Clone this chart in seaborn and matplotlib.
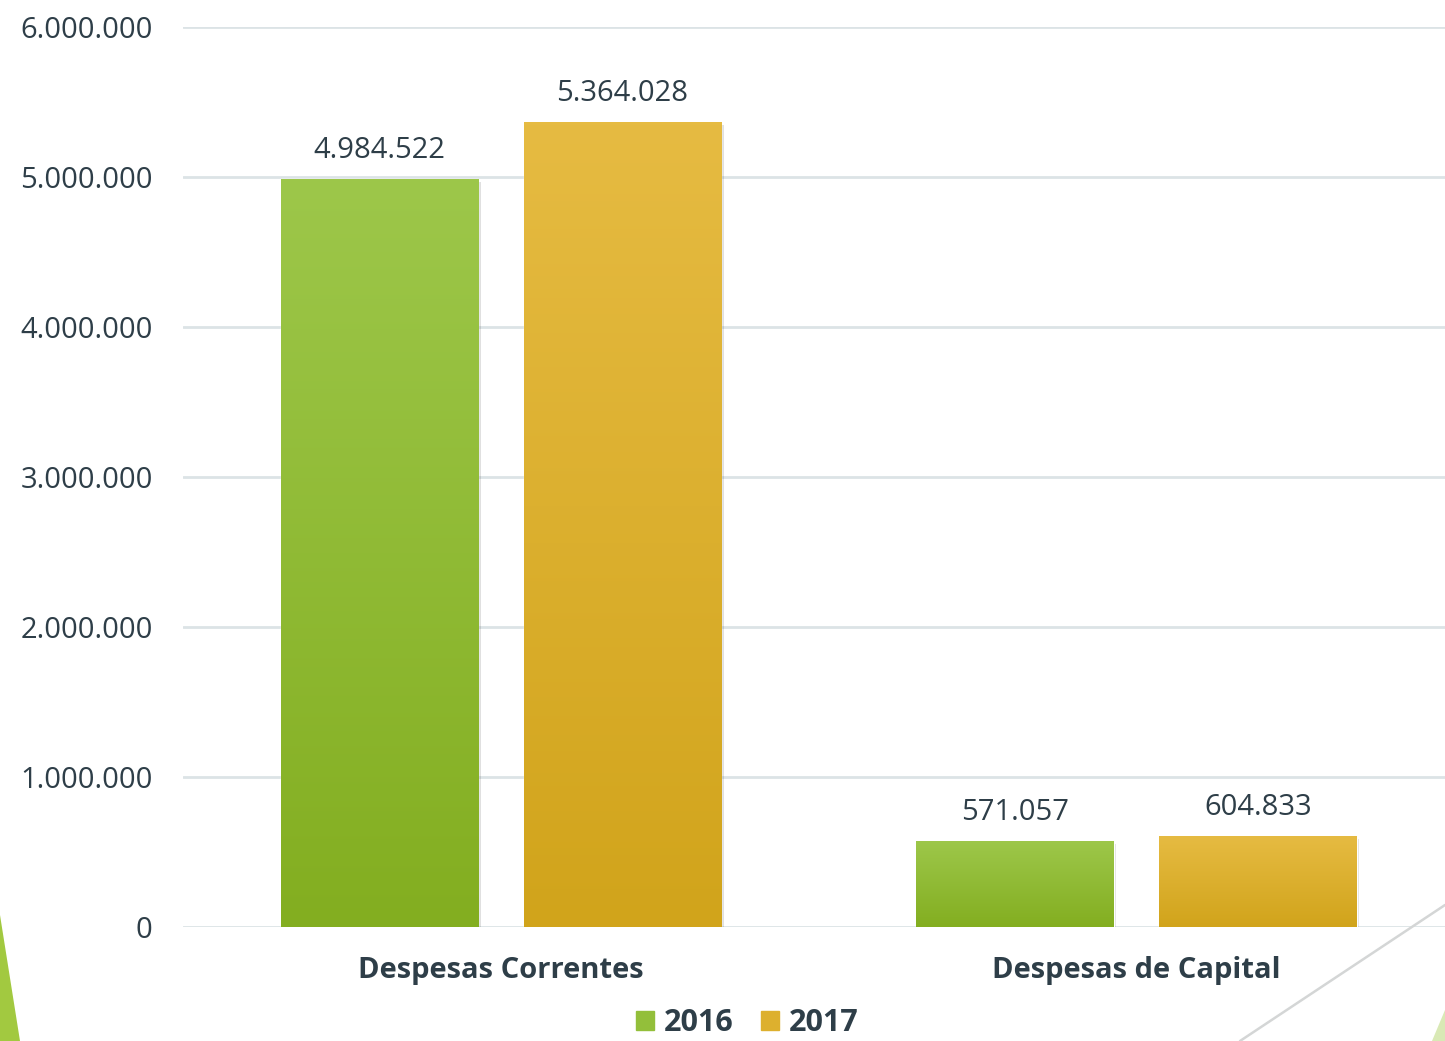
import numpy as np
import pandas as pd
import matplotlib
matplotlib.use("Agg")
import matplotlib.pyplot as plt
import seaborn as sns
from matplotlib.colors import LinearSegmentedColormap
from matplotlib.patches import Polygon
from matplotlib.lines import Line2D

categories = ["Despesas Correntes", "Despesas de Capital"]
years = ["2016", "2017"]
values_2016 = [4984522, 571057]
values_2017 = [5364028, 604833]
yticks = [0, 1000000, 2000000, 3000000, 4000000, 5000000, 6000000]

df = pd.DataFrame({
    "categoria": categories * 2,
    "ano": [years[0]] * 2 + [years[1]] * 2,
    "valor": values_2016 + values_2017,
})

sns.set_theme(style="white")
plt.rcParams["font.family"] = ["Open Sans", "DejaVu Sans"]

TXT = "#2E3E48"
palette = {"2016": "#93BF3A", "2017": "#DDB02E"}
grads = {"2016": ("#9DC74A", "#83AE20"), "2017": ("#E6BB42", "#D1A41B")}

fig = plt.figure(figsize=(14.45, 10.41), dpi=100)
ax = fig.add_axes([183.25 / 1445, 0.1095, 1271 / 1445, 0.8646])

sns.barplot(data=df, x="categoria", y="valor", hue="ano", palette=palette,
            width=0.765, gap=0.189, ax=ax, legend=False, errorbar=None,
            zorder=3)

ax.set_ylim(0, 6000000)
ax.set_xlim(-0.5, 1.5)
ax.set_yticks(yticks)
fmt = lambda v: f"{int(v):,}".replace(",", ".")
ax.set_yticklabels([fmt(v) for v in yticks])
ax.set_xticks(range(len(categories)))
ax.set_xticklabels(categories, fontweight="bold")
ax.yaxis.grid(True, color="#DCE3E6", linewidth=2, zorder=0)
ax.set_axisbelow(True)
for s in ax.spines.values():
    s.set_visible(False)
ax.tick_params(axis="y", length=0, pad=22, labelsize=21, labelcolor=TXT)
ax.tick_params(axis="x", length=0, pad=21, labelsize=21, labelcolor=TXT)
ax.set_xlabel("")
ax.set_ylabel("")

# gradient fills + shadows
for cont, yr in zip(ax.containers, years):
    cmap = LinearSegmentedColormap.from_list(yr, [grads[yr][1], grads[yr][0]])
    for bar in cont:
        x0, y0 = bar.get_x(), bar.get_y()
        w, h = bar.get_width(), bar.get_height()
        sh = plt.Rectangle((x0 + 0.004, y0 - 15000), w, h, color="#000000",
                           alpha=0.12, zorder=2, linewidth=0)
        ax.add_patch(sh)
        grad = np.linspace(0, 1, 256).reshape(-1, 1)
        im = ax.imshow(grad, cmap=cmap, origin="lower", aspect="auto",
                       extent=[x0, x0 + w, y0, y0 + h], zorder=3.5)
        im.set_clip_path(bar)
    ax.bar_label(cont, labels=[fmt(v) for v in cont.datavalues], padding=10,
                 fontsize=21, color=TXT)
ax.set_xlim(-0.5, 1.5)
ax.set_ylim(0, 6000000)

# legend
handles = [plt.Rectangle((0, 0), 1, 1, color=palette[y]) for y in years]
leg = fig.legend(handles, years, loc="lower center", bbox_to_anchor=(0.517, -0.024),
                 ncol=2, frameon=False, prop={"weight": "bold", "size": 22},
                 handlelength=0.6, handleheight=0.6, handletextpad=0.3,
                 columnspacing=0.9)
for t in leg.get_texts():
    t.set_color(TXT)

# decorative shapes
W, H = 1445, 1041
fig.patches.append(Polygon([(0, 1 - 915 / H), (20 / W, 0), (0, 0)], closed=True,
                           transform=fig.transFigure, facecolor="#A2C940",
                           edgecolor="none", zorder=0))
fig.lines.append(Line2D([1240 / W, 1.0], [0, 1 - 905 / H], transform=fig.transFigure,
                        color="#D4D6D6", linewidth=1.8))
fig.patches.append(Polygon([(1432 / W, 0), (1.0, 1 - 1010 / H), (1.0, 0)], closed=True,
                           transform=fig.transFigure, facecolor="#D9E9B5",
                           edgecolor="none", zorder=0))

fig.savefig("out.png", dpi=100)
